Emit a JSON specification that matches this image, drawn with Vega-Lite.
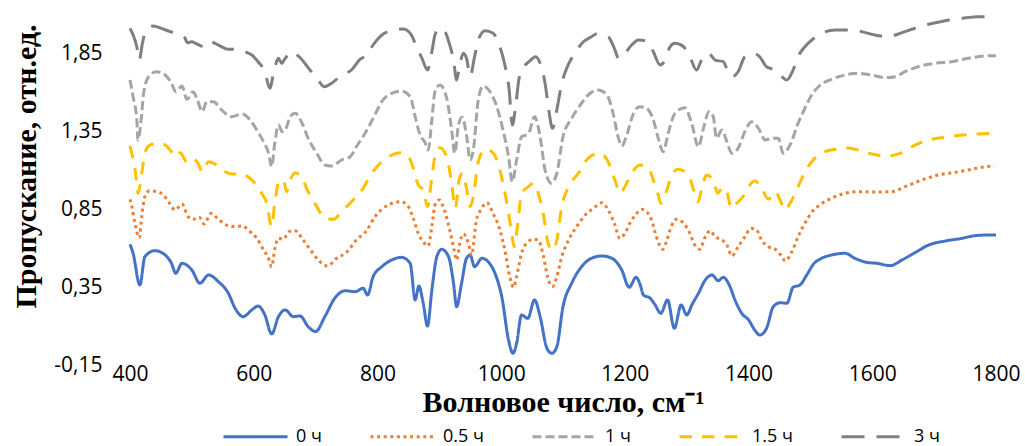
{
"$schema":"https://vega.github.io/schema/vega-lite/v6.json",
"width":866,"height":351,
"autosize":{"type":"none"},
"padding":{"left":130,"top":14,"right":29,"bottom":81},
"background":"white",
"config":{"view":{"stroke":null},
"axis":{"grid":false,"domain":false,"ticks":false,"labelFont":"Open Sans","labelFontSize":21,"labelColor":"#000","titleFont":"Liberation Serif","titleFontWeight":"bold","titleFontSize":30,"titleColor":"#000"},
"legend":{"orient":"none","legendX":92,"legendY":389,"direction":"horizontal","title":null,"symbolType":"stroke","symbolSize":4096,"symbolStrokeWidth":3,"labelFont":"Open Sans","labelFontSize":18,"labelColor":"#000","columnPadding":42,"labelOffset":7}},
"data":{"values":[
{"s":"0 ч","x":400,"y":0.624},{"s":"0 ч","x":405,"y":0.566},{"s":"0 ч","x":416,"y":0.363},{"s":"0 ч","x":424,"y":0.544},{"s":"0 ч","x":440,"y":0.583},{"s":"0 ч","x":457,"y":0.555},{"s":"0 ч","x":467,"y":0.502},{"s":"0 ч","x":474,"y":0.438},{"s":"0 ч","x":484,"y":0.502},{"s":"0 ч","x":500,"y":0.459},{"s":"0 ч","x":513,"y":0.374},{"s":"0 ч","x":527,"y":0.427},{"s":"0 ч","x":543,"y":0.384},{"s":"0 ч","x":559,"y":0.31},{"s":"0 ч","x":570,"y":0.213},{"s":"0 ч","x":583,"y":0.16},{"s":"0 ч","x":597,"y":0.203},{"s":"0 ч","x":607,"y":0.228},{"s":"0 ч","x":618,"y":0.171},{"s":"0 ч","x":629,"y":0.049},{"s":"0 ч","x":640,"y":0.16},{"s":"0 ч","x":651,"y":0.203},{"s":"0 ч","x":664,"y":0.16},{"s":"0 ч","x":675,"y":0.164},{"s":"0 ч","x":688,"y":0.096},{"s":"0 ч","x":700,"y":0.064},{"s":"0 ч","x":715,"y":0.16},{"s":"0 ч","x":731,"y":0.278},{"s":"0 ч","x":748,"y":0.326},{"s":"0 ч","x":764,"y":0.32},{"s":"0 ч","x":777,"y":0.342},{"s":"0 ч","x":784,"y":0.299},{"s":"0 ч","x":793,"y":0.416},{"s":"0 ч","x":807,"y":0.48},{"s":"0 ч","x":823,"y":0.523},{"s":"0 ч","x":839,"y":0.54},{"s":"0 ч","x":853,"y":0.502},{"s":"0 ч","x":861,"y":0.267},{"s":"0 ч","x":867,"y":0.356},{"s":"0 ч","x":874,"y":0.246},{"s":"0 ч","x":881,"y":0.1},{"s":"0 ч","x":888,"y":0.331},{"s":"0 ч","x":896,"y":0.544},{"s":"0 ч","x":904,"y":0.592},{"s":"0 ч","x":915,"y":0.544},{"s":"0 ч","x":923,"y":0.374},{"s":"0 ч","x":928,"y":0.224},{"s":"0 ч","x":936,"y":0.374},{"s":"0 ч","x":944,"y":0.534},{"s":"0 ч","x":950,"y":0.555},{"s":"0 ч","x":957,"y":0.48},{"s":"0 ч","x":969,"y":0.534},{"s":"0 ч","x":979,"y":0.512},{"s":"0 ч","x":990,"y":0.438},{"s":"0 ч","x":1001,"y":0.288},{"s":"0 ч","x":1012,"y":0.01},{"s":"0 ч","x":1019,"y":-0.075},{"s":"0 ч","x":1025,"y":-0.011},{"s":"0 ч","x":1033,"y":0.171},{"s":"0 ч","x":1043,"y":0.149},{"s":"0 ч","x":1054,"y":0.267},{"s":"0 ч","x":1063,"y":0.16},{"s":"0 ч","x":1074,"y":-0.043},{"s":"0 ч","x":1082,"y":-0.075},{"s":"0 ч","x":1090,"y":-0.033},{"s":"0 ч","x":1100,"y":0.224},{"s":"0 ч","x":1114,"y":0.374},{"s":"0 ч","x":1130,"y":0.48},{"s":"0 ч","x":1146,"y":0.534},{"s":"0 ч","x":1163,"y":0.549},{"s":"0 ч","x":1179,"y":0.534},{"s":"0 ч","x":1195,"y":0.459},{"s":"0 ч","x":1207,"y":0.348},{"s":"0 ч","x":1218,"y":0.412},{"s":"0 ч","x":1224,"y":0.374},{"s":"0 ч","x":1230,"y":0.299},{"s":"0 ч","x":1241,"y":0.278},{"s":"0 ч","x":1249,"y":0.235},{"s":"0 ч","x":1258,"y":0.181},{"s":"0 ч","x":1269,"y":0.267},{"s":"0 ч","x":1280,"y":0.085},{"s":"0 ч","x":1291,"y":0.235},{"s":"0 ч","x":1300,"y":0.171},{"s":"0 ч","x":1309,"y":0.241},{"s":"0 ч","x":1319,"y":0.31},{"s":"0 ч","x":1330,"y":0.395},{"s":"0 ч","x":1341,"y":0.427},{"s":"0 ч","x":1351,"y":0.39},{"s":"0 ч","x":1359,"y":0.412},{"s":"0 ч","x":1370,"y":0.352},{"s":"0 ч","x":1378,"y":0.267},{"s":"0 ч","x":1389,"y":0.181},{"s":"0 ч","x":1400,"y":0.139},{"s":"0 ч","x":1410,"y":0.074},{"s":"0 ч","x":1418,"y":0.042},{"s":"0 ч","x":1429,"y":0.085},{"s":"0 ч","x":1440,"y":0.224},{"s":"0 ч","x":1451,"y":0.249},{"s":"0 ч","x":1462,"y":0.246},{"s":"0 ч","x":1472,"y":0.348},{"s":"0 ч","x":1483,"y":0.363},{"s":"0 ч","x":1494,"y":0.427},{"s":"0 ч","x":1505,"y":0.497},{"s":"0 ч","x":1518,"y":0.534},{"s":"0 ч","x":1534,"y":0.555},{"s":"0 ч","x":1556,"y":0.566},{"s":"0 ч","x":1572,"y":0.534},{"s":"0 ч","x":1591,"y":0.508},{"s":"0 ч","x":1607,"y":0.502},{"s":"0 ч","x":1629,"y":0.487},{"s":"0 ч","x":1648,"y":0.523},{"s":"0 ч","x":1669,"y":0.57},{"s":"0 ч","x":1691,"y":0.619},{"s":"0 ч","x":1718,"y":0.645},{"s":"0 ч","x":1745,"y":0.662},{"s":"0 ч","x":1766,"y":0.679},{"s":"0 ч","x":1785,"y":0.683},{"s":"0 ч","x":1800,"y":0.683},
{"s":"0.5 ч","x":400,"y":0.912},{"s":"0.5 ч","x":403,"y":0.865},{"s":"0.5 ч","x":408,"y":0.758},{"s":"0.5 ч","x":415,"y":0.666},{"s":"0.5 ч","x":419,"y":0.801},{"s":"0.5 ч","x":424,"y":0.929},{"s":"0.5 ч","x":432,"y":0.967},{"s":"0.5 ч","x":443,"y":0.961},{"s":"0.5 ч","x":454,"y":0.94},{"s":"0.5 ч","x":462,"y":0.897},{"s":"0.5 ч","x":473,"y":0.844},{"s":"0.5 ч","x":484,"y":0.882},{"s":"0.5 ч","x":494,"y":0.801},{"s":"0.5 ч","x":502,"y":0.784},{"s":"0.5 ч","x":512,"y":0.797},{"s":"0.5 ч","x":520,"y":0.754},{"s":"0.5 ч","x":531,"y":0.822},{"s":"0.5 ч","x":543,"y":0.784},{"s":"0.5 ч","x":556,"y":0.747},{"s":"0.5 ч","x":570,"y":0.737},{"s":"0.5 ч","x":581,"y":0.741},{"s":"0.5 ч","x":594,"y":0.705},{"s":"0.5 ч","x":605,"y":0.662},{"s":"0.5 ч","x":616,"y":0.587},{"s":"0.5 ч","x":624,"y":0.534},{"s":"0.5 ч","x":629,"y":0.48},{"s":"0.5 ч","x":634,"y":0.592},{"s":"0.5 ч","x":640,"y":0.662},{"s":"0.5 ч","x":648,"y":0.656},{"s":"0.5 ч","x":657,"y":0.705},{"s":"0.5 ч","x":667,"y":0.711},{"s":"0.5 ч","x":680,"y":0.651},{"s":"0.5 ч","x":694,"y":0.576},{"s":"0.5 ч","x":707,"y":0.512},{"s":"0.5 ч","x":719,"y":0.485},{"s":"0.5 ч","x":734,"y":0.534},{"s":"0.5 ч","x":750,"y":0.572},{"s":"0.5 ч","x":766,"y":0.651},{"s":"0.5 ч","x":783,"y":0.715},{"s":"0.5 ч","x":796,"y":0.801},{"s":"0.5 ч","x":809,"y":0.854},{"s":"0.5 ч","x":826,"y":0.89},{"s":"0.5 ч","x":838,"y":0.897},{"s":"0.5 ч","x":850,"y":0.865},{"s":"0.5 ч","x":858,"y":0.79},{"s":"0.5 ч","x":866,"y":0.694},{"s":"0.5 ч","x":874,"y":0.64},{"s":"0.5 ч","x":882,"y":0.613},{"s":"0.5 ч","x":888,"y":0.737},{"s":"0.5 ч","x":893,"y":0.876},{"s":"0.5 ч","x":900,"y":0.908},{"s":"0.5 ч","x":908,"y":0.844},{"s":"0.5 ч","x":917,"y":0.715},{"s":"0.5 ч","x":924,"y":0.587},{"s":"0.5 ч","x":928,"y":0.523},{"s":"0.5 ч","x":933,"y":0.63},{"s":"0.5 ч","x":939,"y":0.69},{"s":"0.5 ч","x":947,"y":0.63},{"s":"0.5 ч","x":952,"y":0.555},{"s":"0.5 ч","x":960,"y":0.78},{"s":"0.5 ч","x":967,"y":0.844},{"s":"0.5 ч","x":977,"y":0.89},{"s":"0.5 ч","x":987,"y":0.822},{"s":"0.5 ч","x":998,"y":0.715},{"s":"0.5 ч","x":1006,"y":0.587},{"s":"0.5 ч","x":1014,"y":0.416},{"s":"0.5 ч","x":1020,"y":0.348},{"s":"0.5 ч","x":1025,"y":0.416},{"s":"0.5 ч","x":1033,"y":0.566},{"s":"0.5 ч","x":1041,"y":0.63},{"s":"0.5 ч","x":1052,"y":0.656},{"s":"0.5 ч","x":1060,"y":0.651},{"s":"0.5 ч","x":1068,"y":0.555},{"s":"0.5 ч","x":1075,"y":0.416},{"s":"0.5 ч","x":1083,"y":0.352},{"s":"0.5 ч","x":1090,"y":0.416},{"s":"0.5 ч","x":1098,"y":0.544},{"s":"0.5 ч","x":1109,"y":0.651},{"s":"0.5 ч","x":1122,"y":0.737},{"s":"0.5 ч","x":1136,"y":0.812},{"s":"0.5 ч","x":1149,"y":0.854},{"s":"0.5 ч","x":1163,"y":0.89},{"s":"0.5 ч","x":1173,"y":0.844},{"s":"0.5 ч","x":1183,"y":0.758},{"s":"0.5 ч","x":1192,"y":0.662},{"s":"0.5 ч","x":1200,"y":0.694},{"s":"0.5 ч","x":1208,"y":0.758},{"s":"0.5 ч","x":1219,"y":0.822},{"s":"0.5 ч","x":1227,"y":0.848},{"s":"0.5 ч","x":1235,"y":0.833},{"s":"0.5 ч","x":1243,"y":0.78},{"s":"0.5 ч","x":1251,"y":0.672},{"s":"0.5 ч","x":1261,"y":0.592},{"s":"0.5 ч","x":1268,"y":0.651},{"s":"0.5 ч","x":1275,"y":0.737},{"s":"0.5 ч","x":1284,"y":0.784},{"s":"0.5 ч","x":1294,"y":0.762},{"s":"0.5 ч","x":1305,"y":0.694},{"s":"0.5 ч","x":1313,"y":0.619},{"s":"0.5 ч","x":1321,"y":0.592},{"s":"0.5 ч","x":1330,"y":0.672},{"s":"0.5 ч","x":1338,"y":0.711},{"s":"0.5 ч","x":1346,"y":0.672},{"s":"0.5 ч","x":1355,"y":0.656},{"s":"0.5 ч","x":1365,"y":0.619},{"s":"0.5 ч","x":1373,"y":0.549},{"s":"0.5 ч","x":1383,"y":0.608},{"s":"0.5 ч","x":1394,"y":0.672},{"s":"0.5 ч","x":1404,"y":0.726},{"s":"0.5 ч","x":1413,"y":0.715},{"s":"0.5 ч","x":1421,"y":0.651},{"s":"0.5 ч","x":1432,"y":0.608},{"s":"0.5 ч","x":1443,"y":0.592},{"s":"0.5 ч","x":1454,"y":0.544},{"s":"0.5 ч","x":1459,"y":0.517},{"s":"0.5 ч","x":1470,"y":0.576},{"s":"0.5 ч","x":1480,"y":0.672},{"s":"0.5 ч","x":1491,"y":0.758},{"s":"0.5 ч","x":1502,"y":0.828},{"s":"0.5 ч","x":1515,"y":0.876},{"s":"0.5 ч","x":1534,"y":0.919},{"s":"0.5 ч","x":1556,"y":0.951},{"s":"0.5 ч","x":1577,"y":0.961},{"s":"0.5 ч","x":1604,"y":0.959},{"s":"0.5 ч","x":1631,"y":0.961},{"s":"0.5 ч","x":1653,"y":0.993},{"s":"0.5 ч","x":1680,"y":1.036},{"s":"0.5 ч","x":1707,"y":1.068},{"s":"0.5 ч","x":1734,"y":1.085},{"s":"0.5 ч","x":1761,"y":1.105},{"s":"0.5 ч","x":1782,"y":1.121},{"s":"0.5 ч","x":1797,"y":1.126},
{"s":"1 ч","x":400,"y":1.677},{"s":"1 ч","x":405,"y":1.57},{"s":"1 ч","x":411,"y":1.421},{"s":"1 ч","x":413,"y":1.292},{"s":"1 ч","x":418,"y":1.421},{"s":"1 ч","x":422,"y":1.592},{"s":"1 ч","x":430,"y":1.698},{"s":"1 ч","x":443,"y":1.73},{"s":"1 ч","x":457,"y":1.709},{"s":"1 ч","x":467,"y":1.656},{"s":"1 ч","x":474,"y":1.602},{"s":"1 ч","x":484,"y":1.638},{"s":"1 ч","x":492,"y":1.553},{"s":"1 ч","x":502,"y":1.602},{"s":"1 ч","x":509,"y":1.549},{"s":"1 ч","x":517,"y":1.474},{"s":"1 ч","x":524,"y":1.538},{"s":"1 ч","x":535,"y":1.538},{"s":"1 ч","x":548,"y":1.485},{"s":"1 ч","x":564,"y":1.442},{"s":"1 ч","x":581,"y":1.459},{"s":"1 ч","x":594,"y":1.421},{"s":"1 ч","x":605,"y":1.356},{"s":"1 ч","x":616,"y":1.281},{"s":"1 ч","x":624,"y":1.207},{"s":"1 ч","x":629,"y":1.121},{"s":"1 ч","x":634,"y":1.271},{"s":"1 ч","x":640,"y":1.388},{"s":"1 ч","x":646,"y":1.346},{"s":"1 ч","x":651,"y":1.356},{"s":"1 ч","x":659,"y":1.442},{"s":"1 ч","x":667,"y":1.463},{"s":"1 ч","x":678,"y":1.401},{"s":"1 ч","x":688,"y":1.303},{"s":"1 ч","x":702,"y":1.207},{"s":"1 ч","x":715,"y":1.132},{"s":"1 ч","x":726,"y":1.126},{"s":"1 ч","x":742,"y":1.164},{"s":"1 ч","x":756,"y":1.185},{"s":"1 ч","x":766,"y":1.249},{"s":"1 ч","x":780,"y":1.335},{"s":"1 ч","x":793,"y":1.431},{"s":"1 ч","x":809,"y":1.549},{"s":"1 ч","x":826,"y":1.596},{"s":"1 ч","x":839,"y":1.606},{"s":"1 ч","x":853,"y":1.57},{"s":"1 ч","x":861,"y":1.442},{"s":"1 ч","x":869,"y":1.324},{"s":"1 ч","x":877,"y":1.275},{"s":"1 ч","x":882,"y":1.228},{"s":"1 ч","x":888,"y":1.421},{"s":"1 ч","x":893,"y":1.602},{"s":"1 ч","x":901,"y":1.645},{"s":"1 ч","x":912,"y":1.56},{"s":"1 ч","x":920,"y":1.356},{"s":"1 ч","x":925,"y":1.207},{"s":"1 ч","x":931,"y":1.388},{"s":"1 ч","x":937,"y":1.438},{"s":"1 ч","x":944,"y":1.324},{"s":"1 ч","x":950,"y":1.164},{"s":"1 ч","x":955,"y":1.228},{"s":"1 ч","x":963,"y":1.549},{"s":"1 ч","x":971,"y":1.638},{"s":"1 ч","x":982,"y":1.602},{"s":"1 ч","x":993,"y":1.506},{"s":"1 ч","x":1003,"y":1.356},{"s":"1 ч","x":1012,"y":1.185},{"s":"1 ч","x":1018,"y":1.025},{"s":"1 ч","x":1025,"y":1.164},{"s":"1 ч","x":1033,"y":1.313},{"s":"1 ч","x":1044,"y":1.331},{"s":"1 ч","x":1054,"y":1.442},{"s":"1 ч","x":1063,"y":1.313},{"s":"1 ч","x":1071,"y":1.1},{"s":"1 ч","x":1081,"y":1.015},{"s":"1 ч","x":1090,"y":1.079},{"s":"1 ч","x":1100,"y":1.313},{"s":"1 ч","x":1114,"y":1.431},{"s":"1 ч","x":1130,"y":1.528},{"s":"1 ч","x":1144,"y":1.592},{"s":"1 ч","x":1157,"y":1.613},{"s":"1 ч","x":1171,"y":1.581},{"s":"1 ч","x":1181,"y":1.463},{"s":"1 ч","x":1189,"y":1.313},{"s":"1 ч","x":1195,"y":1.254},{"s":"1 ч","x":1203,"y":1.324},{"s":"1 ч","x":1214,"y":1.463},{"s":"1 ч","x":1224,"y":1.506},{"s":"1 ч","x":1235,"y":1.495},{"s":"1 ч","x":1246,"y":1.421},{"s":"1 ч","x":1254,"y":1.303},{"s":"1 ч","x":1262,"y":1.217},{"s":"1 ч","x":1270,"y":1.335},{"s":"1 ч","x":1281,"y":1.463},{"s":"1 ч","x":1297,"y":1.499},{"s":"1 ч","x":1308,"y":1.399},{"s":"1 ч","x":1319,"y":1.249},{"s":"1 ч","x":1327,"y":1.367},{"s":"1 ч","x":1336,"y":1.474},{"s":"1 ч","x":1343,"y":1.442},{"s":"1 ч","x":1348,"y":1.303},{"s":"1 ч","x":1357,"y":1.356},{"s":"1 ч","x":1365,"y":1.281},{"s":"1 ч","x":1373,"y":1.207},{"s":"1 ч","x":1383,"y":1.239},{"s":"1 ч","x":1394,"y":1.346},{"s":"1 ч","x":1405,"y":1.41},{"s":"1 ч","x":1416,"y":1.367},{"s":"1 ч","x":1427,"y":1.292},{"s":"1 ч","x":1437,"y":1.303},{"s":"1 ч","x":1448,"y":1.303},{"s":"1 ч","x":1456,"y":1.207},{"s":"1 ч","x":1467,"y":1.26},{"s":"1 ч","x":1480,"y":1.399},{"s":"1 ч","x":1491,"y":1.495},{"s":"1 ч","x":1502,"y":1.581},{"s":"1 ч","x":1513,"y":1.634},{"s":"1 ч","x":1534,"y":1.681},{"s":"1 ч","x":1556,"y":1.709},{"s":"1 ч","x":1577,"y":1.72},{"s":"1 ч","x":1599,"y":1.709},{"s":"1 ч","x":1621,"y":1.692},{"s":"1 ч","x":1637,"y":1.698},{"s":"1 ч","x":1653,"y":1.73},{"s":"1 ч","x":1674,"y":1.762},{"s":"1 ч","x":1701,"y":1.784},{"s":"1 ч","x":1728,"y":1.794},{"s":"1 ч","x":1755,"y":1.816},{"s":"1 ч","x":1782,"y":1.831},{"s":"1 ч","x":1800,"y":1.833},
{"s":"1.5 ч","x":400,"y":1.254},{"s":"1.5 ч","x":404,"y":1.185},{"s":"1.5 ч","x":409,"y":1.079},{"s":"1.5 ч","x":413,"y":0.951},{"s":"1.5 ч","x":419,"y":1.079},{"s":"1.5 ч","x":424,"y":1.207},{"s":"1.5 ч","x":432,"y":1.26},{"s":"1.5 ч","x":446,"y":1.271},{"s":"1.5 ч","x":457,"y":1.26},{"s":"1.5 ч","x":467,"y":1.217},{"s":"1.5 ч","x":473,"y":1.185},{"s":"1.5 ч","x":481,"y":1.211},{"s":"1.5 ч","x":492,"y":1.153},{"s":"1.5 ч","x":500,"y":1.175},{"s":"1.5 ч","x":510,"y":1.143},{"s":"1.5 ч","x":517,"y":1.089},{"s":"1.5 ч","x":527,"y":1.153},{"s":"1.5 ч","x":540,"y":1.132},{"s":"1.5 ч","x":554,"y":1.089},{"s":"1.5 ч","x":567,"y":1.074},{"s":"1.5 ч","x":578,"y":1.079},{"s":"1.5 ч","x":591,"y":1.057},{"s":"1.5 ч","x":602,"y":1.015},{"s":"1.5 ч","x":613,"y":0.951},{"s":"1.5 ч","x":621,"y":0.887},{"s":"1.5 ч","x":629,"y":0.737},{"s":"1.5 ч","x":634,"y":0.887},{"s":"1.5 ч","x":640,"y":1.015},{"s":"1.5 ч","x":648,"y":1.036},{"s":"1.5 ч","x":653,"y":0.961},{"s":"1.5 ч","x":659,"y":1.036},{"s":"1.5 ч","x":667,"y":1.083},{"s":"1.5 ч","x":678,"y":1.049},{"s":"1.5 ч","x":688,"y":0.961},{"s":"1.5 ч","x":702,"y":0.865},{"s":"1.5 ч","x":715,"y":0.79},{"s":"1.5 ч","x":729,"y":0.784},{"s":"1.5 ч","x":742,"y":0.833},{"s":"1.5 ч","x":758,"y":0.897},{"s":"1.5 ч","x":775,"y":0.972},{"s":"1.5 ч","x":791,"y":1.079},{"s":"1.5 ч","x":807,"y":1.153},{"s":"1.5 ч","x":823,"y":1.196},{"s":"1.5 ч","x":837,"y":1.211},{"s":"1.5 ч","x":850,"y":1.185},{"s":"1.5 ч","x":858,"y":1.111},{"s":"1.5 ч","x":866,"y":1.004},{"s":"1.5 ч","x":874,"y":0.972},{"s":"1.5 ч","x":881,"y":0.865},{"s":"1.5 ч","x":888,"y":1.057},{"s":"1.5 ч","x":893,"y":1.185},{"s":"1.5 ч","x":901,"y":1.243},{"s":"1.5 ч","x":912,"y":1.185},{"s":"1.5 ч","x":920,"y":1.015},{"s":"1.5 ч","x":926,"y":0.854},{"s":"1.5 ч","x":932,"y":1.036},{"s":"1.5 ч","x":937,"y":1.079},{"s":"1.5 ч","x":944,"y":0.983},{"s":"1.5 ч","x":950,"y":0.865},{"s":"1.5 ч","x":955,"y":0.929},{"s":"1.5 ч","x":963,"y":1.153},{"s":"1.5 ч","x":974,"y":1.233},{"s":"1.5 ч","x":985,"y":1.217},{"s":"1.5 ч","x":995,"y":1.143},{"s":"1.5 ч","x":1003,"y":1.015},{"s":"1.5 ч","x":1012,"y":0.822},{"s":"1.5 ч","x":1017,"y":0.694},{"s":"1.5 ч","x":1021,"y":0.608},{"s":"1.5 ч","x":1027,"y":0.758},{"s":"1.5 ч","x":1033,"y":0.951},{"s":"1.5 ч","x":1044,"y":0.993},{"s":"1.5 ч","x":1052,"y":1.015},{"s":"1.5 ч","x":1060,"y":0.951},{"s":"1.5 ч","x":1068,"y":0.822},{"s":"1.5 ч","x":1076,"y":0.63},{"s":"1.5 ч","x":1083,"y":0.587},{"s":"1.5 ч","x":1090,"y":0.651},{"s":"1.5 ч","x":1098,"y":0.865},{"s":"1.5 ч","x":1109,"y":0.993},{"s":"1.5 ч","x":1125,"y":1.079},{"s":"1.5 ч","x":1138,"y":1.164},{"s":"1.5 ч","x":1152,"y":1.203},{"s":"1.5 ч","x":1160,"y":1.207},{"s":"1.5 ч","x":1173,"y":1.153},{"s":"1.5 ч","x":1184,"y":1.036},{"s":"1.5 ч","x":1192,"y":0.951},{"s":"1.5 ч","x":1200,"y":0.993},{"s":"1.5 ч","x":1211,"y":1.079},{"s":"1.5 ч","x":1224,"y":1.132},{"s":"1.5 ч","x":1238,"y":1.113},{"s":"1.5 ч","x":1246,"y":1.036},{"s":"1.5 ч","x":1254,"y":0.94},{"s":"1.5 ч","x":1258,"y":0.887},{"s":"1.5 ч","x":1268,"y":0.972},{"s":"1.5 ч","x":1276,"y":1.068},{"s":"1.5 ч","x":1286,"y":1.105},{"s":"1.5 ч","x":1303,"y":1.068},{"s":"1.5 ч","x":1311,"y":0.972},{"s":"1.5 ч","x":1318,"y":0.897},{"s":"1.5 ч","x":1324,"y":0.972},{"s":"1.5 ч","x":1332,"y":1.068},{"s":"1.5 ч","x":1343,"y":1.036},{"s":"1.5 ч","x":1350,"y":0.951},{"s":"1.5 ч","x":1358,"y":0.989},{"s":"1.5 ч","x":1365,"y":0.961},{"s":"1.5 ч","x":1372,"y":0.854},{"s":"1.5 ч","x":1381,"y":0.887},{"s":"1.5 ч","x":1391,"y":0.929},{"s":"1.5 ч","x":1400,"y":0.993},{"s":"1.5 ч","x":1410,"y":1.031},{"s":"1.5 ч","x":1420,"y":0.993},{"s":"1.5 ч","x":1432,"y":0.912},{"s":"1.5 ч","x":1443,"y":0.961},{"s":"1.5 ч","x":1451,"y":0.908},{"s":"1.5 ч","x":1458,"y":0.844},{"s":"1.5 ч","x":1470,"y":0.908},{"s":"1.5 ч","x":1480,"y":0.993},{"s":"1.5 ч","x":1493,"y":1.1},{"s":"1.5 ч","x":1503,"y":1.158},{"s":"1.5 ч","x":1518,"y":1.207},{"s":"1.5 ч","x":1540,"y":1.233},{"s":"1.5 ч","x":1556,"y":1.243},{"s":"1.5 ч","x":1577,"y":1.228},{"s":"1.5 ч","x":1599,"y":1.203},{"s":"1.5 ч","x":1626,"y":1.19},{"s":"1.5 ч","x":1648,"y":1.211},{"s":"1.5 ч","x":1669,"y":1.26},{"s":"1.5 ч","x":1691,"y":1.292},{"s":"1.5 ч","x":1718,"y":1.31},{"s":"1.5 ч","x":1745,"y":1.324},{"s":"1.5 ч","x":1771,"y":1.331},{"s":"1.5 ч","x":1800,"y":1.335},
{"s":"3 ч","x":400,"y":2.008},{"s":"3 ч","x":405,"y":1.965},{"s":"3 ч","x":411,"y":1.89},{"s":"3 ч","x":415,"y":1.805},{"s":"3 ч","x":420,"y":1.912},{"s":"3 ч","x":425,"y":1.987},{"s":"3 ч","x":438,"y":2.023},{"s":"3 ч","x":451,"y":2.008},{"s":"3 ч","x":465,"y":1.987},{"s":"3 ч","x":478,"y":1.972},{"s":"3 ч","x":488,"y":1.951},{"s":"3 ч","x":493,"y":1.916},{"s":"3 ч","x":500,"y":1.922},{"s":"3 ч","x":506,"y":1.912},{"s":"3 ч","x":520,"y":1.89},{"s":"3 ч","x":529,"y":1.922},{"s":"3 ч","x":543,"y":1.901},{"s":"3 ч","x":559,"y":1.874},{"s":"3 ч","x":572,"y":1.874},{"s":"3 ч","x":586,"y":1.858},{"s":"3 ч","x":597,"y":1.837},{"s":"3 ч","x":607,"y":1.794},{"s":"3 ч","x":618,"y":1.73},{"s":"3 ч","x":626,"y":1.624},{"s":"3 ч","x":633,"y":1.741},{"s":"3 ч","x":640,"y":1.816},{"s":"3 ч","x":645,"y":1.784},{"s":"3 ч","x":651,"y":1.816},{"s":"3 ч","x":661,"y":1.858},{"s":"3 ч","x":672,"y":1.831},{"s":"3 ч","x":691,"y":1.741},{"s":"3 ч","x":704,"y":1.677},{"s":"3 ч","x":714,"y":1.634},{"s":"3 ч","x":726,"y":1.656},{"s":"3 ч","x":742,"y":1.709},{"s":"3 ч","x":758,"y":1.741},{"s":"3 ч","x":772,"y":1.81},{"s":"3 ч","x":783,"y":1.837},{"s":"3 ч","x":791,"y":1.89},{"s":"3 ч","x":807,"y":1.965},{"s":"3 ч","x":826,"y":1.997},{"s":"3 ч","x":842,"y":2.004},{"s":"3 ч","x":855,"y":1.965},{"s":"3 ч","x":863,"y":1.89},{"s":"3 ч","x":872,"y":1.816},{"s":"3 ч","x":881,"y":1.741},{"s":"3 ч","x":888,"y":1.858},{"s":"3 ч","x":893,"y":1.965},{"s":"3 ч","x":900,"y":2.008},{"s":"3 ч","x":909,"y":1.987},{"s":"3 ч","x":917,"y":1.901},{"s":"3 ч","x":923,"y":1.805},{"s":"3 ч","x":928,"y":1.677},{"s":"3 ч","x":933,"y":1.773},{"s":"3 ч","x":939,"y":1.848},{"s":"3 ч","x":944,"y":1.816},{"s":"3 ч","x":950,"y":1.703},{"s":"3 ч","x":957,"y":1.826},{"s":"3 ч","x":963,"y":1.933},{"s":"3 ч","x":974,"y":1.993},{"s":"3 ч","x":987,"y":1.976},{"s":"3 ч","x":998,"y":1.89},{"s":"3 ч","x":1006,"y":1.773},{"s":"3 ч","x":1013,"y":1.613},{"s":"3 ч","x":1018,"y":1.388},{"s":"3 ч","x":1024,"y":1.528},{"s":"3 ч","x":1029,"y":1.688},{"s":"3 ч","x":1037,"y":1.762},{"s":"3 ч","x":1045,"y":1.794},{"s":"3 ч","x":1056,"y":1.826},{"s":"3 ч","x":1063,"y":1.784},{"s":"3 ч","x":1071,"y":1.656},{"s":"3 ч","x":1077,"y":1.485},{"s":"3 ч","x":1083,"y":1.367},{"s":"3 ч","x":1090,"y":1.485},{"s":"3 ч","x":1098,"y":1.656},{"s":"3 ч","x":1106,"y":1.752},{"s":"3 ч","x":1119,"y":1.848},{"s":"3 ч","x":1133,"y":1.922},{"s":"3 ч","x":1146,"y":1.954},{"s":"3 ч","x":1154,"y":1.972},{"s":"3 ч","x":1173,"y":1.954},{"s":"3 ч","x":1183,"y":1.88},{"s":"3 ч","x":1190,"y":1.816},{"s":"3 ч","x":1200,"y":1.848},{"s":"3 ч","x":1211,"y":1.901},{"s":"3 ч","x":1222,"y":1.933},{"s":"3 ч","x":1238,"y":1.922},{"s":"3 ч","x":1246,"y":1.858},{"s":"3 ч","x":1257,"y":1.773},{"s":"3 ч","x":1265,"y":1.805},{"s":"3 ч","x":1273,"y":1.89},{"s":"3 ч","x":1281,"y":1.912},{"s":"3 ч","x":1295,"y":1.89},{"s":"3 ч","x":1305,"y":1.826},{"s":"3 ч","x":1316,"y":1.741},{"s":"3 ч","x":1324,"y":1.805},{"s":"3 ч","x":1335,"y":1.848},{"s":"3 ч","x":1346,"y":1.805},{"s":"3 ч","x":1359,"y":1.794},{"s":"3 ч","x":1367,"y":1.73},{"s":"3 ч","x":1374,"y":1.698},{"s":"3 ч","x":1383,"y":1.73},{"s":"3 ч","x":1394,"y":1.826},{"s":"3 ч","x":1408,"y":1.848},{"s":"3 ч","x":1418,"y":1.826},{"s":"3 ч","x":1429,"y":1.762},{"s":"3 ч","x":1443,"y":1.741},{"s":"3 ч","x":1454,"y":1.698},{"s":"3 ч","x":1462,"y":1.677},{"s":"3 ч","x":1472,"y":1.741},{"s":"3 ч","x":1480,"y":1.826},{"s":"3 ч","x":1491,"y":1.89},{"s":"3 ч","x":1502,"y":1.933},{"s":"3 ч","x":1518,"y":1.976},{"s":"3 ч","x":1540,"y":1.997},{"s":"3 ч","x":1561,"y":1.997},{"s":"3 ч","x":1583,"y":1.987},{"s":"3 ч","x":1604,"y":1.965},{"s":"3 ч","x":1626,"y":1.954},{"s":"3 ч","x":1642,"y":1.972},{"s":"3 ч","x":1664,"y":2.002},{"s":"3 ч","x":1691,"y":2.034},{"s":"3 ч","x":1718,"y":2.057},{"s":"3 ч","x":1745,"y":2.072},{"s":"3 ч","x":1771,"y":2.083},{"s":"3 ч","x":1800,"y":2.083}
]},
"mark":{"type":"line","strokeWidth":3,"strokeCap":"butt","strokeJoin":"round","interpolate":"monotone"},
"encoding":{
"x":{"field":"x","type":"quantitative","scale":{"domain":[400,1800],"nice":false,"zero":false},"axis":{"values":[400,600,800,1000,1200,1400,1600,1800],"format":"d","labelFlush":false,"labelPadding":-2,"title":"Волновое число, см⁻¹","titleBaseline":"middle","titleY":37}},
"y":{"field":"y","type":"quantitative","scale":{"domain":[-0.15,2.1],"nice":false,"zero":false},"axis":{"values":[-0.15,0.35,0.85,1.35,1.85],"labelExpr":"replace(replace(format(datum.value,'.2f'),'.',','),'\u2212','-')","labelPadding":28,"title":"Пропускание, отн.ед.","titleX":-104,"titleY":152,"titleAlign":"center","titleBaseline":"middle","titleAngle":-90}},
"color":{"field":"s","type":"nominal","scale":{"domain":["0 ч","0.5 ч","1 ч","1.5 ч","3 ч"],"range":["#4472C4","#ED7D31","#A5A5A5","#FFC000","#7F7F7F"]}},
"strokeDash":{"field":"s","type":"nominal","scale":{"domain":["0 ч","0.5 ч","1 ч","1.5 ч","3 ч"],"range":[[1,0],[3,3.6],[9,4],[12.5,10],[23,12]]}}
}
}
